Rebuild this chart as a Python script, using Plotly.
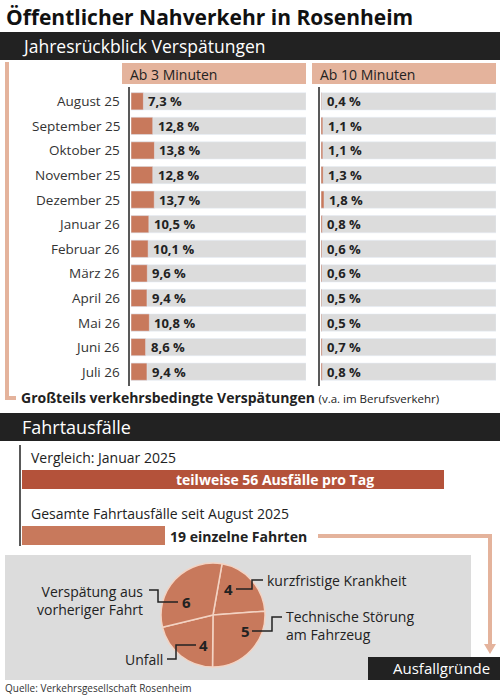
import plotly.graph_objects as go

months = ["August 25", "September 25", "Oktober 25", "November 25", "Dezember 25",
          "Januar 26", "Februar 26", "März 26", "April 26", "Mai 26", "Juni 26", "Juli 26"]
late_3min = [7.3, 12.8, 13.8, 12.8, 13.7, 10.5, 10.1, 9.6, 9.4, 10.8, 8.6, 9.4]
late_10min = [0.4, 1.1, 1.1, 1.3, 1.8, 0.8, 0.6, 0.6, 0.5, 0.5, 0.7, 0.8]

reasons = ["kurzfristige Krankheit", "Technische Störung am Fahrzeug", "Unfall", "Verspätung aus vorheriger Fahrt"]
reason_counts = [4, 5, 4, 6]

W, H = 500, 696
FONT = "Open Sans"
SALMON = "#e4b39c"
BAR = "#c8795c"
DARKRED = "#b4523a"
GREY = "#dcdcdc"
XMAX = 103


def px(x):
    return x / W


def py(y):
    return 1 - y / H


def fmt(v):
    return f"{v:.1f}".replace(".", ",") + " %"


fig = go.Figure()

# grey backgrounds + bars
for xa, vals in [("x", late_3min), ("x2", late_10min)]:
    fig.add_trace(go.Bar(y=months, x=[XMAX] * len(months), orientation="h", marker_color=GREY,
                         xaxis=xa, yaxis="y", hoverinfo="skip", showlegend=False))
    fig.add_trace(go.Bar(y=months, x=vals, orientation="h", marker_color=BAR,
                         xaxis=xa, yaxis="y", showlegend=False))
    for m, v in zip(months, vals):
        fig.add_annotation(x=v, y=m, xref=xa, yref="y", text=f"<b>{fmt(v)}</b>", showarrow=False,
                           xanchor="left", xshift=3, font=dict(size=13, color="#222"))

for m in months:
    fig.add_annotation(x=px(122), y=m, xref="paper", yref="y", text=m, showarrow=False,
                       xanchor="right", font=dict(size=13.5, color="#333"))

# pie of reasons
fig.add_trace(go.Pie(values=reason_counts, labels=reasons, sort=False, direction="clockwise",
                     rotation=10, textinfo="none", hoverinfo="label+value",
                     marker=dict(colors=[BAR] * 4, line=dict(color="#f3d3c3", width=1.5)),
                     domain=dict(x=[px(161), px(265)], y=[py(667), py(563)]), showlegend=False))

fig.update_layout(
    width=W, height=H, margin=dict(l=0, r=0, t=0, b=0),
    paper_bgcolor="white", plot_bgcolor="white", barmode="overlay", bargap=0.3,
    font=dict(family=FONT, color="#222"),
    xaxis=dict(domain=[px(131), px(306)], range=[0, XMAX], visible=False, fixedrange=True),
    xaxis2=dict(domain=[px(321), px(496)], range=[0, XMAX], visible=False, fixedrange=True),
    yaxis=dict(domain=[py(384), py(89)], autorange="reversed", visible=False, fixedrange=True),
)

shapes = []


def rect(x0, y0, x1, y1, color):
    shapes.append(dict(type="rect", xref="paper", yref="paper", x0=px(x0), x1=px(x1),
                       y0=py(y1), y1=py(y0), fillcolor=color, line=dict(width=0), layer="below"))


def path(points, color, width):
    d = "M " + " L ".join(f"{px(a)},{py(b)}" for a, b in points)
    shapes.append(dict(type="path", xref="paper", yref="paper", path=d, line=dict(color=color, width=width)))


def text(x, y, s, size, anchor="left", color="#222", bold=False, align="left"):
    if bold:
        s = f"<b>{s}</b>"
    fig.add_annotation(x=px(x), y=py(y), xref="paper", yref="paper", text=s, showarrow=False,
                       xanchor=anchor, yanchor="middle", align=align, font=dict(size=size, color=color))


# header
text(4, 17, "Öffentlicher Nahverkehr in Rosenheim", 21, bold=True, color="#111")
rect(0, 32, 500, 60, "#222222")
text(20, 46, "Jahresrückblick Verspätungen", 17.5, color="white")
rect(122, 63, 306, 84, SALMON)
rect(312, 63, 496, 84, SALMON)
text(128, 74, "Ab 3 Minuten", 14)
text(318, 74, "Ab 10 Minuten", 14)
path([(129, 87), (129, 386)], "#222", 1.5)
path([(319, 87), (319, 386)], "#222", 1.5)
rect(5, 62, 9, 400, SALMON)
path([(7, 398), (16, 398)], SALMON, 4)
text(19, 397, "Großteils verkehrsbedingte Verspätungen <span style='font-size:11.5px;font-weight:normal'>(v.a. im Berufsverkehr)</span>", 14, bold=True)

# Fahrtausfaelle
rect(0, 413, 500, 441, "#222222")
text(20, 427, "Fahrtausfälle", 18, color="white")
path([(20, 445), (20, 546)], "#222", 1.5)
text(29, 457, "Vergleich: Januar 2025", 14)
rect(22, 470, 444, 489, DARKRED)
text(275, 479, "teilweise 56 Ausfälle pro Tag", 14, anchor="center", color="white", bold=True)
text(29, 513, "Gesamte Fahrtausfälle seit August 2025", 14)
rect(22, 526, 165, 545, BAR)
text(168, 536, "19 einzelne Fahrten", 14, bold=True)
path([(318, 536), (490, 536), (490, 645)], SALMON, 4)
shapes.append(dict(type="path", xref="paper", yref="paper",
                   path=f"M {px(484)},{py(644)} L {px(496)},{py(644)} L {px(490)},{py(654)} Z",
                   fillcolor=SALMON, line=dict(width=0)))

# Ausfallgruende box
rect(5, 555, 471, 680, GREY)
rect(368, 657, 500, 680, "#222222")
text(492, 668, "Ausfallgründe", 15, anchor="right", color="white")

nums = {r: c for r, c in zip(reasons, reason_counts)}
text(228, 589, str(nums[reasons[0]]), 15, anchor="center", bold=True)
text(245, 631, str(nums[reasons[1]]), 15, anchor="center", bold=True)
text(203, 645, str(nums[reasons[2]]), 15, anchor="center", bold=True)
text(186, 602, str(nums[reasons[3]]), 15, anchor="center", bold=True)

text(265, 580, "kurzfristige Krankheit", 14)
path([(236, 589), (252, 589), (252, 580), (263, 580)], "#222", 1.5)
text(284, 625, "Technische Störung<br>am Fahrzeug", 14)
path([(252, 631), (272, 631), (272, 617), (282, 617)], "#222", 1.5)
text(165, 659, "Unfall", 14, anchor="right")
path([(167, 659), (176, 659), (176, 645), (196, 645)], "#222", 1.5)
text(145, 600, "Verspätung aus<br>vorheriger Fahrt", 14, anchor="right", align="right")
path([(149, 590), (158, 590), (158, 602), (178, 602)], "#222", 1.5)

text(3, 688, "Quelle: Verkehrsgesellschaft Rosenheim", 10, color="#333")

fig.update_layout(shapes=shapes)
fig.write_html("out.html", config={"displayModeBar": False},
               post_script="document.body.style.margin='0';document.body.style.overflow='hidden';")
